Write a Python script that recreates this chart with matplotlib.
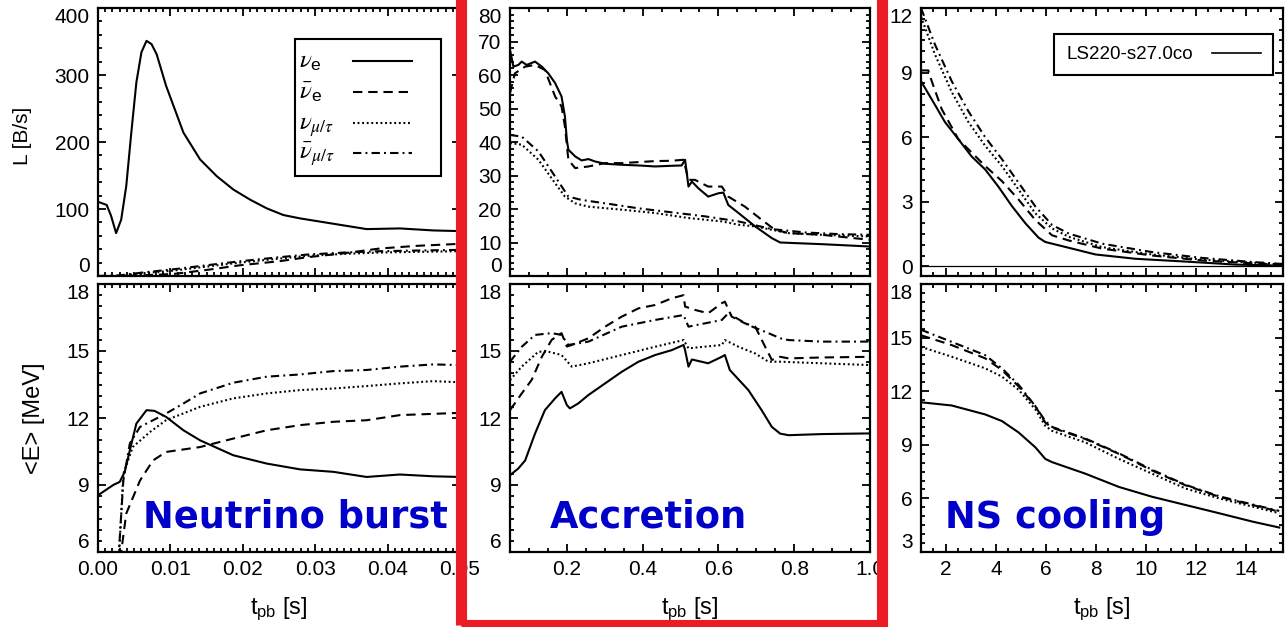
import matplotlib
matplotlib.use("Agg")
import matplotlib.pyplot as plt
import numpy as np
from matplotlib.patches import Rectangle
from matplotlib.ticker import AutoMinorLocator
from matplotlib.lines import Line2D

plt.rcParams['font.family'] = ['Liberation Sans', 'DejaVu Sans']
plt.rcParams['mathtext.fontset'] = 'stix'

# ---------------- neutrino burst phase (0 - 0.05 s) ----------------
t_b_ve = [0.0, 0.0002, 0.0012, 0.0018, 0.0025, 0.0032, 0.0039, 0.0046, 0.0053, 0.006,
          0.0067, 0.0074, 0.0081, 0.0094, 0.0118, 0.0141, 0.0164, 0.0187, 0.021, 0.0233,
          0.0256, 0.0279, 0.0325, 0.0371, 0.0417, 0.0463, 0.05]
L_b_ve = [110, 110, 106, 90, 64, 84, 134, 214, 289, 334, 351, 346, 331, 284, 214, 174,
          149, 129, 114, 101, 91, 86, 78, 70, 71, 68, 67]
t_b_L = [0.0, 0.003, 0.006, 0.0104, 0.015, 0.0196, 0.025, 0.0289, 0.034, 0.0389, 0.044, 0.05]
L_b_vebar = [0, 0, 1, 3, 9, 16, 22, 28, 34, 41, 45, 48]
L_b_vx = [0, 0, 4, 8, 14, 20, 26, 30, 33, 35, 36, 37]
L_b_vxbar = [0, 1, 5, 10, 16, 22, 28, 32, 35, 37, 38, 39]

t_b_E_ve = [0.0, 0.0021, 0.003, 0.0037, 0.0044, 0.0053, 0.0067, 0.0078, 0.0094, 0.0118,
            0.0141, 0.0187, 0.0233, 0.0279, 0.0325, 0.0371, 0.0417, 0.0463, 0.05]
E_b_ve = [8.54, 9.0, 9.14, 9.6, 10.56, 11.75, 12.35, 12.32, 12.05, 11.45, 11.0, 10.33,
          9.96, 9.7, 9.59, 9.36, 9.47, 9.39, 9.36]
t_b_E_vebar = [0.0028, 0.0039, 0.0058, 0.0076, 0.0094, 0.0141, 0.0187, 0.0233, 0.0279,
               0.0325, 0.0371, 0.0417, 0.05]
E_b_vebar = [5.0, 7.72, 9.2, 10.1, 10.48, 10.7, 11.08, 11.45, 11.68, 11.83, 11.9, 12.13, 12.23]
t_b_E_vx = [0.0026, 0.0035, 0.0048, 0.0072, 0.0094, 0.0141, 0.0187, 0.0233, 0.0279,
            0.0325, 0.0371, 0.0417, 0.0463, 0.05]
E_b_vx = [4.0, 9.5, 10.7, 11.38, 11.9, 12.5, 12.88, 13.1, 13.25, 13.32, 13.43, 13.55, 13.65, 13.6]
t_b_E_vxbar = [0.0025, 0.0035, 0.0044, 0.0058, 0.0076, 0.0094, 0.0118, 0.0141, 0.0187,
               0.0233, 0.0279, 0.0325, 0.0371, 0.0417, 0.0463, 0.05]
E_b_vxbar = [4.0, 9.2, 10.86, 11.6, 11.9, 12.2, 12.65, 13.1, 13.58, 13.85, 13.95, 14.1,
             14.15, 14.3, 14.4, 14.37]

# ---------------- accretion phase (0.05 - 1 s) ----------------
t_a_L_ve = [0.05, 0.059, 0.072, 0.081, 0.094, 0.116, 0.134, 0.151, 0.169, 0.186, 0.195,
            0.2, 0.204, 0.222, 0.239, 0.257, 0.274, 0.301, 0.345, 0.389, 0.433, 0.477,
            0.503, 0.512, 0.521, 0.53, 0.547, 0.573, 0.6, 0.613, 0.626, 0.653, 0.697,
            0.741, 0.763, 0.873, 1.0]
L_a_ve = [67.5, 62.5, 63, 64, 63, 64, 62.5, 60.5, 57.6, 53.6, 47.6, 40.6, 37.7, 35.7,
          34.5, 34.9, 34.2, 33.5, 33.2, 33, 32.7, 32.9, 33, 34.7, 26.7, 28.2, 26.2, 23.7,
          24.7, 24.9, 21.2, 18.8, 14.8, 11.3, 10, 9.5, 8.8]
t_a_L_vebar = [0.05, 0.063, 0.09, 0.116, 0.142, 0.169, 0.186, 0.195, 0.204, 0.222, 0.257,
               0.301, 0.345, 0.389, 0.433, 0.477, 0.508, 0.521, 0.538, 0.573, 0.609, 0.626,
               0.67, 0.714, 0.749, 0.785, 0.873, 1.0]
L_a_vebar = [54.6, 60.5, 62.5, 63, 61.5, 53.6, 50.6, 44.6, 34.7, 32.2, 32.7, 33.7, 33.7,
             34, 34.3, 34.4, 34.7, 28.7, 28.7, 26.7, 26.7, 23.7, 20.7, 16.8, 13.8, 12.8,
             12.3, 10.8]
t_a_L_vx = [0.05, 0.081, 0.125, 0.169, 0.195, 0.222, 0.257, 0.345, 0.433, 0.521, 0.609,
            0.653, 0.697, 0.741, 0.785, 0.873, 1.0]
L_a_vx = [39.7, 39.2, 34.7, 27.7, 23.7, 21.7, 20.7, 19.8, 18.8, 17.3, 16.3, 15.3, 14.8,
          13.8, 12.8, 12.3, 11.8]
t_a_L_vxbar = [0.05, 0.081, 0.125, 0.169, 0.204, 0.239, 0.301, 0.389, 0.477, 0.565,
               0.653, 0.741, 0.829, 0.917, 1.0]
L_a_vxbar = [42.1, 41.6, 37.2, 29.7, 23.7, 22.7, 21.7, 20.2, 19, 17.8, 16.3, 14, 13,
             12.5, 12.3]

t_a_E_ve = [0.05, 0.072, 0.09, 0.116, 0.142, 0.169, 0.186, 0.2, 0.208, 0.23, 0.257,
            0.301, 0.345, 0.389, 0.433, 0.477, 0.508, 0.512, 0.521, 0.53, 0.573, 0.609,
            0.617, 0.63, 0.679, 0.714, 0.741, 0.763, 0.785, 0.873, 1.0]
E_a_ve = [9.44, 9.74, 10.1, 11.3, 12.35, 12.88, 13.17, 12.58, 12.43, 12.65, 13.03, 13.55,
          14.07, 14.52, 14.82, 15.04, 15.27, 15.04, 14.3, 14.62, 14.45, 14.74, 14.82,
          14.15, 13.25, 12.35, 11.6, 11.3, 11.23, 11.28, 11.31]
t_a_E_vebar = [0.05, 0.081, 0.107, 0.134, 0.16, 0.186, 0.2, 0.213, 0.257, 0.301, 0.345,
               0.389, 0.433, 0.477, 0.508, 0.512, 0.538, 0.573, 0.609, 0.617, 0.635, 0.67,
               0.697, 0.723, 0.741, 0.763, 0.785, 0.873, 1.0]
E_a_vebar = [12.35, 13.1, 13.7, 14.74, 15.5, 15.8, 15.2, 15.27, 15.57, 16.09, 16.54,
             16.91, 17.06, 17.36, 17.5, 16.99, 16.84, 16.69, 17.14, 17.21, 16.54, 16.24,
             16.09, 15.2, 14.6, 14.74, 14.67, 14.71, 14.74]
t_a_E_vx = [0.05, 0.081, 0.125, 0.151, 0.186, 0.213, 0.257, 0.345, 0.433, 0.508, 0.521,
            0.609, 0.617, 0.653, 0.697, 0.732, 0.763, 0.873, 1.0]
E_a_vx = [13.7, 14.3, 14.97, 14.97, 14.82, 14.3, 14.45, 14.82, 15.19, 15.49, 15.12,
          15.27, 15.49, 15.19, 14.89, 14.52, 14.52, 14.45, 14.37]
t_a_E_vxbar = [0.05, 0.081, 0.116, 0.16, 0.186, 0.204, 0.257, 0.345, 0.433, 0.508, 0.521,
               0.609, 0.626, 0.679, 0.732, 0.763, 0.785, 0.873, 1.0]
E_a_vxbar = [14.52, 15.19, 15.72, 15.8, 15.72, 15.27, 15.42, 16.09, 16.39, 16.61, 16.09,
             16.39, 16.69, 16.16, 15.8, 15.57, 15.49, 15.42, 15.42]

# ---------------- proto-neutron star cooling (1 - 15.5 s) ----------------
t_c_L_ve = [1.0, 1.56, 1.96, 2.5, 3.03, 3.57, 4.1, 4.64, 5.18, 5.71, 5.98, 6.92, 7.99,
            9.59, 11.6, 13.61, 15.48]
L_c_ve = [8.6, 7.5, 6.7, 5.9, 5.1, 4.5, 3.7, 2.8, 2.0, 1.33, 1.13, 0.86, 0.55, 0.35,
          0.22, 0.08, 0.03]
t_c_L_vebar = [1.0, 1.29, 1.43, 1.83, 2.5, 3.57, 4.24, 4.91, 5.58, 6.25, 6.92, 8.26,
               10.26, 12.27, 14.28, 15.48]
L_c_vebar = [9.1, 9.1, 8.6, 7.3, 5.9, 4.66, 3.96, 3.1, 2.15, 1.44, 1.2, 0.82, 0.5, 0.27,
             0.14, 0.06]
t_c_L = [1.0, 1.56, 2.23, 2.9, 3.57, 4.24, 4.91, 5.58, 6.25, 6.92, 8.26, 10.26, 12.27,
         14.28, 15.48]
L_c_vx = [11.6, 9.84, 8.1, 6.7, 5.6, 4.66, 3.56, 2.46, 1.76, 1.37, 0.89, 0.55, 0.31,
          0.17, 0.08]
L_c_vxbar = [12.0, 10.3, 8.6, 7.2, 6.0, 4.98, 3.88, 2.78, 1.92, 1.52, 1.05, 0.66, 0.39,
             0.2, 0.11]

t_c_E = [1.0, 2.23, 3.57, 4.24, 4.91, 5.58, 5.98, 6.25, 7.59, 8.93, 10.26, 11.6, 12.94,
         14.28, 15.35]
E_c_ve = [11.38, 11.2, 10.7, 10.33, 9.69, 8.86, 8.21, 8.03, 7.38, 6.64, 6.09, 5.63,
          5.17, 4.7, 4.37]
E_c_vebar = [15.13, 14.58, 13.84, 13.19, 12.27, 11.16, 10.24, 9.96, 9.32, 8.49, 7.56,
             6.73, 6.09, 5.63, 5.26]
E_c_vx = [14.48, 13.93, 13.28, 12.82, 12.08, 10.98, 10.06, 9.78, 9.13, 8.21, 7.38, 6.55,
          6.0, 5.54, 5.17]
E_c_vxbar = [15.44, 14.76, 14.02, 13.28, 12.36, 11.16, 10.33, 10.0, 9.35, 8.52, 7.6,
             6.76, 6.12, 5.66, 5.3]

flavour_labels = [r'$\nu_{\mathregular{e}}$', r'$\bar{\nu}_{\mathregular{e}}$',
                  r'$\nu_{\mu/\tau}$', r'$\bar{\nu}_{\mu/\tau}$']
styles = ['-', (0, (4.5, 2.8)), (0, (0.9, 1.3)), (0, (4.0, 2.0, 0.9, 2.0))]

W, H = 1287, 627
fig = plt.figure(figsize=(W / 100, H / 100), dpi=100)


def add_ax(x0, x1, y0, y1):
    return fig.add_axes([x0 / W, 1 - y1 / H, (x1 - x0) / W, (y1 - y0) / H])


cols = [(98, 460), (510, 870), (921, 1283)]
rows = [(8, 276), (284, 552)]
axes = [[add_ax(c[0], c[1], r[0], r[1]) for c in cols] for r in rows]

lw = 1.5
fs_tick = 15


def style_ax(ax, xt, xl, xminor, yt, yl, yminor, xlabels=True, ylab_edges=(True, True)):
    ax.set_xlim(*xl)
    ax.set_ylim(*yl)
    ax.set_xticks(xt)
    ax.set_yticks(yt)
    ax.xaxis.set_minor_locator(AutoMinorLocator(xminor))
    ax.yaxis.set_minor_locator(AutoMinorLocator(yminor))
    ax.tick_params(which='both', direction='in', top=True, right=True,
                   labelsize=fs_tick, width=1.3, pad=6)
    ax.tick_params(which='major', length=6)
    ax.tick_params(which='minor', length=3)
    if not xlabels:
        ax.tick_params(labelbottom=False)
    for s in ax.spines.values():
        s.set_linewidth(1.6)
    ticks = ax.yaxis.get_major_ticks()
    if ylab_edges[0]:
        ticks[0].label1.set_va('bottom')
    if ylab_edges[1]:
        ticks[-1].label1.set_va('top')


def draw(ax, series):
    for (t, v), ls in zip(series, styles):
        ax.plot(t, v, color='black', lw=lw, ls=ls)


# top row: luminosities
draw(axes[0][0], [(t_b_ve, L_b_ve), (t_b_L, L_b_vebar), (t_b_L, L_b_vx), (t_b_L, L_b_vxbar)])
draw(axes[0][1], [(t_a_L_ve, L_a_ve), (t_a_L_vebar, L_a_vebar), (t_a_L_vx, L_a_vx),
                  (t_a_L_vxbar, L_a_vxbar)])
draw(axes[0][2], [(t_c_L_ve, L_c_ve), (t_c_L_vebar, L_c_vebar), (t_c_L, L_c_vx),
                  (t_c_L, L_c_vxbar)])
axes[0][2].axhline(0, color='black', lw=0.9)

# bottom row: mean energies
draw(axes[1][0], [(t_b_E_ve, E_b_ve), (t_b_E_vebar, E_b_vebar), (t_b_E_vx, E_b_vx),
                  (t_b_E_vxbar, E_b_vxbar)])
draw(axes[1][1], [(t_a_E_ve, E_a_ve), (t_a_E_vebar, E_a_vebar), (t_a_E_vx, E_a_vx),
                  (t_a_E_vxbar, E_a_vxbar)])
draw(axes[1][2], [(t_c_E, E_c_ve), (t_c_E, E_c_vebar), (t_c_E, E_c_vx), (t_c_E, E_c_vxbar)])

xt_b = [0.0, 0.01, 0.02, 0.03, 0.04, 0.05]
xt_a = [0.2, 0.4, 0.6, 0.8, 1.0]
xt_c = [2, 4, 6, 8, 10, 12, 14]

style_ax(axes[0][0], xt_b, (0, 0.05), 10, [0, 100, 200, 300, 400], (0, 400), 5, xlabels=False)
style_ax(axes[0][1], xt_a, (0.05, 1.0), 4, list(range(0, 90, 10)), (0, 80), 5, xlabels=False)
style_ax(axes[0][2], xt_c, (1, 15.5), 4, [0, 3, 6, 9, 12], (-0.45, 12), 6, xlabels=False,
         ylab_edges=(False, True))
style_ax(axes[1][0], xt_b, (0, 0.05), 10, [6, 9, 12, 15, 18], (6, 18), 6)
style_ax(axes[1][1], xt_a, (0.05, 1.0), 4, [6, 9, 12, 15, 18], (6, 18), 6)
style_ax(axes[1][2], xt_c, (1, 15.5), 4, [3, 6, 9, 12, 15, 18], (3, 18), 6)

axes[1][0].set_xticklabels(['0.00', '0.01', '0.02', '0.03', '0.04', '0.05'])
axes[1][1].set_xticklabels(['0.2', '0.4', '0.6', '0.8', '1.0'])


# flavour key: label on the left, line sample on the right (positions in pixels)
def fx(x):
    return x / W


def fy(y):
    return 1 - y / H


fig.add_artist(Rectangle((fx(295), fy(176)), (441 - 295) / W, (176 - 39) / H,
                         transform=fig.transFigure, facecolor='white',
                         edgecolor='black', lw=1.5, zorder=4))
for i, (lab, ls) in enumerate(zip(flavour_labels, styles)):
    y_line = 61 + 30.8 * i
    y_base = 68 + 30.7 * i
    fig.text(fx(299), fy(y_base), lab, ha='left', va='baseline', fontsize=18, zorder=5)
    fig.add_artist(Line2D([fx(353), fx(412)], [fy(y_line), fy(y_line)],
                          transform=fig.transFigure, color='black', lw=lw, ls=ls, zorder=5))

# model legend
leg2 = axes[0][2].legend([Line2D([], [], color='black', lw=1.2)], ['LS220-s27.0co'],
                         loc='upper right', bbox_to_anchor=(0.972, 0.903),
                         borderaxespad=0, markerfirst=False, fontsize=13.5,
                         handlelength=2.6, borderpad=0.65, handletextpad=1.0,
                         fancybox=False, edgecolor='black', framealpha=1)
leg2.get_frame().set_linewidth(1.5)

# axis titles
fig.text(23 / W, 1 - 136 / H, 'L [B/s]', rotation=90, ha='center', va='center', fontsize=15)
fig.text(34 / W, 1 - 418 / H, '<E> [MeV]', rotation=90, ha='center', va='center', fontsize=17)
for c in cols:
    fig.text((c[0] + c[1]) / 2 / W, 1 - 614 / H, r'$\mathregular{t_{pb}}$ [s]',
             ha='center', va='baseline', fontsize=17)

# phase names
blue = '#0000C8'
for x, name in [(143, 'Neutrino burst'), (550, 'Accretion'), (945, 'NS cooling')]:
    fig.text(x / W, 1 - 528 / H, name, ha='left', va='baseline', fontsize=26.5,
             fontweight='bold', color=blue, family='DejaVu Sans')

# highlight frame around the accretion panels
fig.add_artist(Rectangle((461 / W, 1 - 625 / H), (882 - 461) / W, 0.1 + 625 / H,
                         transform=fig.transFigure, fill=False, edgecolor='#EC1C24',
                         lw=8, zorder=10, clip_on=False))

fig.savefig('out.png', dpi=100)
